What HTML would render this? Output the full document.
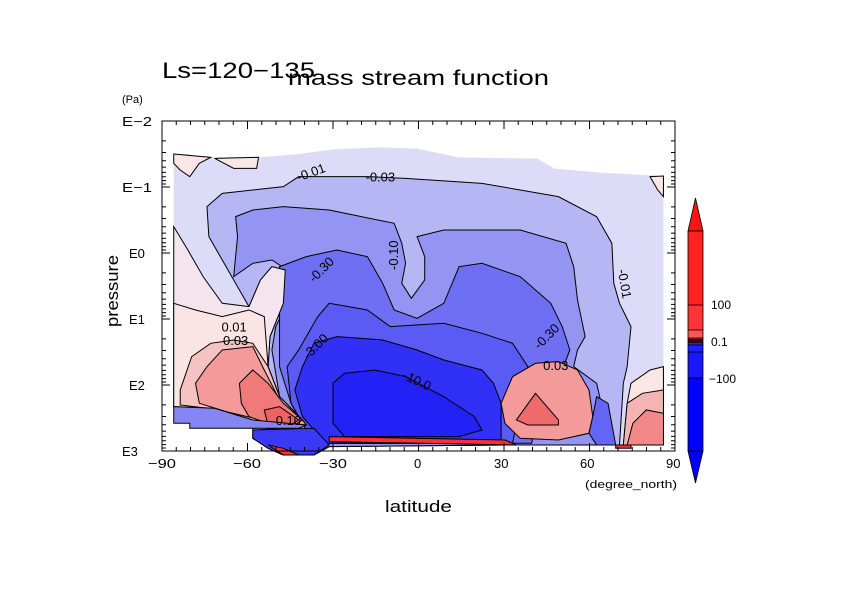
<!DOCTYPE html>
<html><head><meta charset="utf-8"><style>
html,body{margin:0;padding:0;background:#fff;}
svg{display:block;font-family:"Liberation Sans",sans-serif;}
</style></head><body>
<svg width="842" height="595" viewBox="0 0 842 595" xmlns="http://www.w3.org/2000/svg">
<defs>
<pattern id="mx" patternUnits="userSpaceOnUse" x="161.5" y="0" width="14.25" height="600"><rect x="0" y="0" width="1" height="600" fill="#000"/></pattern>
<pattern id="Mx" patternUnits="userSpaceOnUse" x="161.5" y="0" width="85.5" height="600"><rect x="0" y="0" width="1" height="600" fill="#000"/></pattern>
</defs>
<rect width="842" height="595" fill="#fff"/>
<g transform="translate(100,50) scale(0.382,0.3333)">
<g stroke="#000" stroke-width="1">
<polygon vector-effect="non-scaling-stroke" stroke="none" fill="#dcdcf8" points="193,312 235,312 235,322 415,322 520,312 610,298 730,292 830,296 940,322 1145,326 1190,356 1310,368 1475,378 1475,1185 1060,1185 600,1190 560,1215 480,1215 440,1195 400,1165 400,1135 235,1135 235,1120 193,1120"/>
<polygon vector-effect="non-scaling-stroke" fill="#fbe6e6" points="193,312 290,322 260,340 235,380 210,360 193,340"/>
<polygon vector-effect="non-scaling-stroke" fill="#fbe6e6" points="300,325 415,322 410,355 350,355"/>
<polygon vector-effect="non-scaling-stroke" fill="#fbe6e6" points="1440,380 1475,378 1475,440 1460,420"/>
<polygon vector-effect="non-scaling-stroke" fill="#b6b6f5" points="280,470 320,430 480,410 520,380 700,380 800,385 1000,400 1200,440 1300,500 1340,580 1345,700 1360,760 1390,830 1380,950 1370,1000 1360,1185 1060,1185 600,1190 560,1215 480,1215 440,1195 400,1165 400,1135 540,1125 470,1040 440,950 445,860 480,760 485,660 450,650 420,690 390,770 350,690 285,560"/>
<polygon vector-effect="non-scaling-stroke" fill="#9494f3" points="355,500 400,480 480,470 600,480 770,520 790,580 800,640 790,700 815,745 850,690 850,620 830,560 900,540 1100,540 1220,580 1240,650 1250,750 1270,860 1250,900 1240,950 1300,1000 1320,1100 1330,1185 1060,1185 600,1190 560,1215 480,1215 440,1195 420,1140 540,1125 470,1040 450,900 460,830 490,760 490,660 450,630 400,640 350,680 360,560"/>
<polygon vector-effect="non-scaling-stroke" fill="#6f6ff4" points="470,650 540,620 620,600 700,620 740,700 770,780 830,805 900,760 940,650 1000,640 1100,680 1180,760 1210,830 1230,900 1210,960 1160,1000 1130,1180 560,1180 500,1060 470,950 470,800"/>
<polygon vector-effect="non-scaling-stroke" fill="#5a5af5" points="520,900 570,800 600,760 700,780 760,830 900,820 1000,850 1080,880 1120,950 1100,1060 1080,1180 560,1180 500,1060 490,950"/>
<polygon vector-effect="non-scaling-stroke" fill="#3030f7" points="530,950 560,880 620,860 740,870 830,900 900,930 1000,960 1030,1000 1050,1060 1050,1180 590,1180 530,1100 510,1020"/>
<polygon vector-effect="non-scaling-stroke" fill="#2222f6" points="610,1000 640,970 720,960 800,980 900,1040 980,1100 1000,1140 940,1160 640,1160 610,1120"/>
<polygon vector-effect="non-scaling-stroke" fill="#f3e4ee" points="193,530 230,600 270,680 320,760 390,770 420,690 450,650 485,660 480,760 445,860 440,950 470,1040 530,1110 540,1125 400,1110 300,1075 193,1070"/>
<polygon vector-effect="non-scaling-stroke" fill="#fbe4e4" points="193,760 250,780 320,800 390,780 430,800 440,950 470,1040 530,1110 540,1125 400,1110 300,1075 193,1070"/>
<polygon vector-effect="non-scaling-stroke" fill="#f6c2c2" points="210,1020 240,920 290,880 350,870 400,880 440,950 470,1040 530,1110 540,1125 420,1110 320,1080 210,1065"/>
<polygon vector-effect="non-scaling-stroke" fill="#f49a9a" points="250,1000 280,950 320,900 400,890 430,960 470,1050 530,1110 540,1125 440,1115 330,1085 260,1060"/>
<polygon vector-effect="non-scaling-stroke" fill="#f07a7a" points="370,1060 365,1000 400,960 440,1000 480,1060 530,1110 510,1125 440,1120 390,1100"/>
<polygon vector-effect="non-scaling-stroke" fill="#ee6262" points="430,1080 470,1070 520,1110 500,1125 440,1125"/>
<polygon vector-effect="non-scaling-stroke" fill="#8585f4" points="193,1070 300,1075 400,1110 540,1125 520,1135 400,1135 235,1135 235,1120 193,1120"/>
<polygon vector-effect="non-scaling-stroke" fill="#3a3af6" points="400,1140 560,1135 600,1185 560,1215 480,1215 440,1195 400,1165"/>
<polygon vector-effect="non-scaling-stroke" fill="#f49a9a" points="1050,1060 1080,980 1140,940 1200,935 1250,960 1280,1020 1290,1100 1280,1150 1200,1170 1100,1165 1060,1120"/>
<polygon vector-effect="non-scaling-stroke" fill="#ef6a6a" points="1090,1110 1140,1030 1200,1110 1200,1125 1120,1125"/>
<polygon vector-effect="non-scaling-stroke" fill="#6565f5" points="1290,1100 1300,1040 1330,1060 1350,1185 1300,1185 1280,1150"/>
<polygon vector-effect="non-scaling-stroke" fill="#fbe6e6" points="1390,1000 1440,960 1475,950 1475,1185 1370,1185 1380,1060"/>
<polygon vector-effect="non-scaling-stroke" fill="#f5b4b4" points="1370,1185 1380,1060 1420,1030 1475,1020 1475,1185"/>
<polygon vector-effect="non-scaling-stroke" fill="#f28888" points="1380,1185 1395,1120 1430,1080 1475,1090 1475,1185"/>
<polygon vector-effect="non-scaling-stroke" fill="#ff3030" points="600,1160 1060,1170 1090,1185 600,1175"/>
<polygon vector-effect="non-scaling-stroke" fill="#ff3030" points="440,1185 480,1195 520,1215 480,1215"/>
<polygon vector-effect="non-scaling-stroke" fill="#ff3030" points="1350,1185 1390,1185 1390,1195 1350,1195"/>
</g>
<g font-size="13" fill="#000">
<text transform="translate(520,395) scale(2.618,3) rotate(-20)">-0.01</text>
<text transform="translate(695,395) scale(2.618,3)">-0.03</text>
<text transform="translate(780,660) scale(2.618,3) rotate(-90)">-0.10</text>
<text transform="translate(560,700) scale(2.618,3) rotate(-45)">-0.30</text>
<text transform="translate(545,930) scale(2.618,3) rotate(-45)">-3.00</text>
<text transform="translate(790,985) scale(2.618,3) rotate(25)">-10.0</text>
<text transform="translate(1355,660) scale(2.618,3) rotate(80)">-0.01</text>
<text transform="translate(1150,900) scale(2.618,3) rotate(-45)">-0.30</text>
<text transform="translate(1160,960) scale(2.618,3)">0.03</text>
<text transform="translate(318,845) scale(2.618,3)">0.01</text>
<text transform="translate(322,885) scale(2.618,3)">0.03</text>
<text transform="translate(460,1125) scale(2.618,3)">0.10</text>
</g>
</g>
<rect x="162" y="121" width="513" height="330" fill="none" stroke="#000" stroke-width="1"/>
<rect x="161.5" y="121" width="514" height="4" fill="url(#mx)"/>
<rect x="161.5" y="447" width="514" height="4" fill="url(#mx)"/>
<rect x="161.5" y="121" width="514" height="8" fill="url(#Mx)"/>
<rect x="161.5" y="443" width="514" height="8" fill="url(#Mx)"/>
<path stroke="#000" stroke-width="1" fill="none" d="
M162 140.9h4M162 152.5h4M162 160.7h4M162 167.1h4M162 172.4h4M162 176.8h4M162 180.6h4M162 184h4M162 187h8
M162 206.9h4M162 218.5h4M162 226.7h4M162 233.1h4M162 238.4h4M162 242.8h4M162 246.6h4M162 250h4M162 253h8
M162 272.9h4M162 284.5h4M162 292.7h4M162 299.1h4M162 304.4h4M162 308.8h4M162 312.6h4M162 316h4M162 319h8
M162 338.9h4M162 350.5h4M162 358.7h4M162 365.1h4M162 370.4h4M162 374.8h4M162 378.6h4M162 382h4M162 385h8
M162 404.9h4M162 416.5h4M162 424.7h4M162 431.1h4M162 436.4h4M162 440.8h4M162 444.6h4M162 448h4
M675 140.9h-4M675 152.5h-4M675 160.7h-4M675 167.1h-4M675 172.4h-4M675 176.8h-4M675 180.6h-4M675 184h-4M675 187h-8
M675 206.9h-4M675 218.5h-4M675 226.7h-4M675 233.1h-4M675 238.4h-4M675 242.8h-4M675 246.6h-4M675 250h-4M675 253h-8
M675 272.9h-4M675 284.5h-4M675 292.7h-4M675 299.1h-4M675 304.4h-4M675 308.8h-4M675 312.6h-4M675 316h-4M675 319h-8
M675 338.9h-4M675 350.5h-4M675 358.7h-4M675 365.1h-4M675 370.4h-4M675 374.8h-4M675 378.6h-4M675 382h-4M675 385h-8
M675 404.9h-4M675 416.5h-4M675 424.7h-4M675 431.1h-4M675 436.4h-4M675 440.8h-4M675 444.6h-4M675 448h-4"/>
<g font-size="13" fill="#000">
<text x="122" y="126" textLength="30" lengthAdjust="spacingAndGlyphs">E−2</text><text x="122" y="192" textLength="30" lengthAdjust="spacingAndGlyphs">E−1</text><text x="129" y="258">E0</text><text x="129" y="324">E1</text><text x="129" y="390">E2</text><text x="122" y="456">E3</text>
<text x="148" y="468" textLength="28" lengthAdjust="spacingAndGlyphs">−90</text><text x="233" y="468" textLength="28" lengthAdjust="spacingAndGlyphs">−60</text><text x="319" y="468" textLength="28" lengthAdjust="spacingAndGlyphs">−30</text><text x="414" y="468">0</text><text x="494" y="468">30</text><text x="580" y="468">60</text><text x="666" y="468">90</text>
</g>
<text x="122" y="103" font-size="11">(Pa)</text>
<text x="585" y="488" font-size="11" textLength="92" lengthAdjust="spacingAndGlyphs">(degree_north)</text>
<text x="385" y="512" font-size="17" textLength="67" lengthAdjust="spacingAndGlyphs">latitude</text>
<text transform="translate(118,327) rotate(-90)" font-size="17" textLength="72" lengthAdjust="spacingAndGlyphs">pressure</text>
<text x="162" y="78" font-size="22" textLength="153" lengthAdjust="spacingAndGlyphs">Ls=120−135</text>
<text x="288" y="85" font-size="21" textLength="261" lengthAdjust="spacingAndGlyphs">mass stream function</text>
<polygon points="688,231 695.5,198 703,231" fill="#ff1414" stroke="#000" stroke-width="0.8"/>
<polygon points="688,451 695.5,483 703,451" fill="#0000ff" stroke="#000" stroke-width="0.8"/>
<rect x="688" y="231" width="15" height="74" fill="#ff2020"/>
<rect x="688" y="305" width="15" height="25" fill="#ff3535"/>
<rect x="688" y="330" width="15" height="8" fill="#f55"/>
<rect x="688" y="338" width="15" height="5" fill="#c02040"/>
<rect x="688" y="343" width="15" height="9" fill="#2020ff"/>
<rect x="688" y="352" width="15" height="26" fill="#1818ff"/>
<rect x="688" y="378" width="15" height="73" fill="#0000ff"/>
<g stroke="#000" stroke-width="0.8">
<rect x="688" y="231" width="15" height="220" fill="none"/>
<line x1="688" y1="305" x2="703" y2="305"/><line x1="688" y1="330" x2="703" y2="330"/>
<line x1="688" y1="338" x2="703" y2="338"/><line x1="688" y1="340" x2="703" y2="340" stroke-width="1.5"/>
<line x1="688" y1="342" x2="703" y2="342" stroke-width="1.5"/><line x1="688" y1="345" x2="703" y2="345"/>
<line x1="688" y1="352" x2="703" y2="352"/><line x1="688" y1="378" x2="703" y2="378"/>
</g>
<text x="711" y="309" font-size="12">100</text>
<text x="711" y="346" font-size="12">0.1</text>
<text x="709" y="383" font-size="12">−100</text>
</svg>
</body></html>
